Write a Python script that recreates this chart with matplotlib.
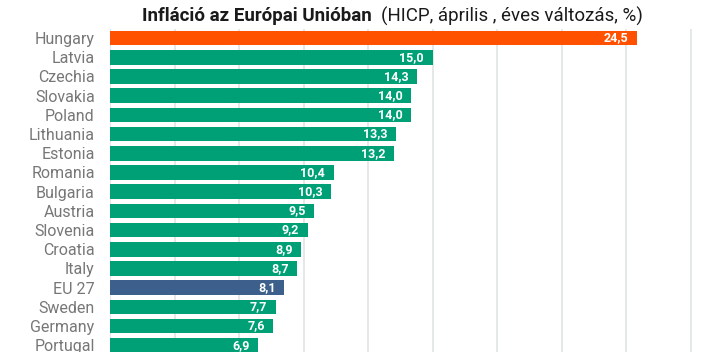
import matplotlib.pyplot as plt
import numpy as np

countries = ['Hungary', 'Latvia', 'Czechia', 'Slovakia', 'Poland', 'Lithuania',
             'Estonia', 'Romania', 'Bulgaria', 'Austria', 'Slovenia', 'Croatia',
             'Italy', 'EU 27', 'Sweden', 'Germany', 'Portugal']
values = [24.5, 15.0, 14.3, 14.0, 14.0, 13.3, 13.2, 10.4, 10.3, 9.5, 9.2, 8.9,
          8.7, 8.1, 7.7, 7.6, 6.9]

title_bold = 'Infláció az Európai Unióban'
title_rest = '(HICP, április , éves változás, %)'

GREEN = '#00a077'
ORANGE = '#ff5100'
BLUE = '#3d5f8c'

plt.rcParams['font.family'] = ['Roboto', 'DejaVu Sans']

fig = plt.figure(figsize=(7.03, 3.52), dpi=100)
ax = fig.add_axes([110 / 703, 0, 593 / 703, 323 / 352])

colors = []
for c in countries:
    if c == 'Hungary':
        colors.append(ORANGE)
    elif c == 'EU 27':
        colors.append(BLUE)
    else:
        colors.append(GREEN)

y = np.arange(len(countries))
ax.barh(y, values, height=0.76, color=colors, zorder=2)

for yi, v in zip(y, values):
    ax.text(v - 0.4, yi, f'{v:.1f}'.replace('.', ','), color='white',
            fontsize=9, fontweight='bold', ha='right', va='center', zorder=3)

ax.set_xlim(0, 27.58)
ax.set_ylim(16.35, -0.47)
ax.set_xticks(np.arange(0, 28, 3))
ax.xaxis.grid(True, color='#dfe4e4', linewidth=1.2, zorder=0)
ax.tick_params(axis='x', length=0, labelbottom=False)
ax.set_yticks(y)
ax.set_yticklabels(countries, fontsize=11.5, color='#777777')
ax.tick_params(axis='y', length=0, pad=11)
for s in ax.spines.values():
    s.set_visible(False)

# title in two parts: bold + regular
t1 = fig.text(142 / 703, 1 - 16 / 352, title_bold, ha='left', va='center',
              fontsize=13.5, fontweight='bold', color='#1a1a1a')
fig.canvas.draw()
bb = t1.get_window_extent()
fig.text((bb.x1 + 9) / 703, 1 - 16 / 352, title_rest, ha='left', va='center',
         fontsize=13.5, color='#1a1a1a')

fig.savefig('out.png', dpi=100)
